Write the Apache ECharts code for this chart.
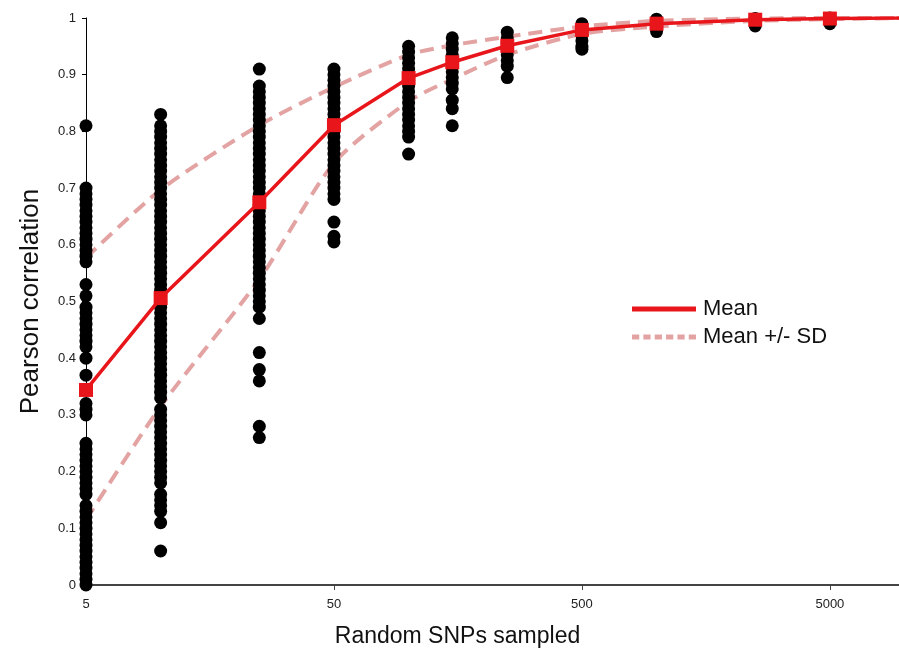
<!DOCTYPE html>
<html>
<head>
<meta charset="utf-8">
<script src="https://cdn.jsdelivr.net/npm/echarts@6/dist/echarts.min.js"></script>
<style>html,body{margin:0;padding:0;background:#fff}#c{width:899px;height:648px}</style>
</head>
<body>
<div id="c"></div>
<script>
// Sample sizes (x positions, log scale)
const sampleSizes = [5, 10, 25, 50, 100, 150, 250, 500, 1000, 2500, 5000];
// Individual correlation values per sample size
const dotsAt5 = [0.81, 0.70, 0.69, 0.68, 0.67, 0.66, 0.65, 0.64, 0.63, 0.62, 0.61, 0.60, 0.59, 0.58, 0.57, 0.53, 0.51, 0.49, 0.48, 0.47, 0.46, 0.45, 0.44, 0.43, 0.42, 0.40, 0.37, 0.32, 0.31, 0.30, 0.25, 0.24, 0.23, 0.22, 0.21, 0.20, 0.19, 0.18, 0.17, 0.16, 0.14, 0.13, 0.12, 0.11, 0.10, 0.09, 0.08, 0.07, 0.06, 0.05, 0.04, 0.03, 0.02, 0.01, 0.00];
const dotsAt10 = [0.83, 0.81, 0.80, 0.79, 0.78, 0.77, 0.76, 0.75, 0.74, 0.73, 0.72, 0.71, 0.70, 0.69, 0.68, 0.67, 0.66, 0.65, 0.64, 0.63, 0.62, 0.61, 0.60, 0.59, 0.58, 0.57, 0.56, 0.55, 0.54, 0.53, 0.52, 0.51, 0.50, 0.49, 0.48, 0.47, 0.46, 0.45, 0.44, 0.43, 0.42, 0.41, 0.40, 0.39, 0.38, 0.37, 0.36, 0.35, 0.34, 0.33, 0.31, 0.30, 0.29, 0.28, 0.27, 0.26, 0.25, 0.24, 0.23, 0.22, 0.21, 0.20, 0.19, 0.18, 0.16, 0.15, 0.14, 0.13, 0.11, 0.06];
const dotsAt25 = [0.91, 0.88, 0.87, 0.86, 0.85, 0.84, 0.83, 0.82, 0.81, 0.80, 0.79, 0.78, 0.77, 0.76, 0.75, 0.74, 0.73, 0.72, 0.71, 0.70, 0.69, 0.68, 0.67, 0.66, 0.65, 0.64, 0.63, 0.62, 0.61, 0.60, 0.59, 0.58, 0.57, 0.56, 0.55, 0.54, 0.53, 0.52, 0.51, 0.50, 0.49, 0.47, 0.41, 0.38, 0.36, 0.28, 0.26];
const dotsAt50 = [0.91, 0.90, 0.89, 0.88, 0.87, 0.86, 0.85, 0.84, 0.83, 0.82, 0.81, 0.80, 0.79, 0.78, 0.77, 0.76, 0.75, 0.74, 0.73, 0.72, 0.71, 0.70, 0.69, 0.68, 0.64, 0.615, 0.605];
const dotsAt100 = [0.95, 0.94, 0.93, 0.92, 0.91, 0.90, 0.89, 0.88, 0.87, 0.86, 0.85, 0.84, 0.83, 0.82, 0.81, 0.80, 0.79, 0.76];
const dotsAt150 = [0.965, 0.955, 0.945, 0.935, 0.925, 0.915, 0.905, 0.895, 0.885, 0.875, 0.855, 0.84, 0.81];
const dotsAt250 = [0.975, 0.965, 0.955, 0.945, 0.935, 0.925, 0.915, 0.895];
const dotsAt500 = [0.99, 0.98, 0.97, 0.96, 0.95, 0.945];
const dotsAt1000 = [0.998, 0.99, 0.983, 0.976];
const dotsAt2500 = [0.999, 0.993, 0.986];
const dotsAt5000 = [1.0, 0.995, 0.99];
// Summary lines
const meanValues = [0.344, 0.506, 0.675, 0.811, 0.894, 0.922, 0.951, 0.979, 0.990, 0.997, 0.999];
const upperSD = [0.577, 0.697, 0.811, 0.878, 0.935, 0.952, 0.967, 0.985, 0.995, 0.999, 1.0];
const lowerSD = [0.115, 0.315, 0.539, 0.744, 0.853, 0.892, 0.935, 0.972, 0.985, 0.995, 0.998];
// Line continuation beyond the visible range
const tailX = 10000, tailMean = 1.0, tailUpper = 1.0, tailLower = 1.0;
// Axis tick labels
const xTickLabels = [5, 50, 500, 5000];

const dotGroups = [dotsAt5, dotsAt10, dotsAt25, dotsAt50, dotsAt100, dotsAt150, dotsAt250, dotsAt500, dotsAt1000, dotsAt2500, dotsAt5000];
const dotData = [];
dotGroups.forEach((g, i) => g.forEach(v => dotData.push([sampleSizes[i], v])));
const pair = (arr, tail) => sampleSizes.map((x, i) => [x, arr[i]]).concat([[tailX, tail]]);

const FONT = 'Liberation Sans';
const RED = '#e8161b';
const PINK = '#e3a3a3';
const chart = echarts.init(document.getElementById('c'), null, {renderer: 'canvas'});
chart.setOption({
  animation: false,
  backgroundColor: '#fff',
  textStyle: {fontFamily: FONT},
  grid: {left: 86, right: 0, top: 18, bottom: 63, containLabel: false, outerBoundsMode: 'none'},
  legend: {
    orient: 'vertical', left: 627, top: 293, itemWidth: 64, itemHeight: 14, itemGap: 6,
    textStyle: {fontSize: 22, color: '#111', fontFamily: FONT, padding: [0, 0, 0, 2]},
    data: [
      {name: 'Mean', icon: 'path://M0,0H64V5H0Z', itemStyle: {color: RED}},
      {name: 'Mean +/- SD', icon: 'path://M0,0H7V5H0Z M11,0H18V5H11Z M22,0H29V5H22Z M33,0H40V5H33Z M44,0H51V5H44Z M55,0H62V5H55Z', itemStyle: {color: PINK}}
    ]
  },
  xAxis: {
    type: 'log', logBase: 10, min: 5, max: 9500,
    name: 'Random SNPs sampled', nameLocation: 'middle', nameGap: 40,
    nameTextStyle: {fontSize: 23, color: '#111', fontFamily: FONT, padding: [0, 70, 0, 0]},
    axisLine: {show: true, lineStyle: {color: '#444', width: 2}},
    axisTick: {show: true, length: 5, lineStyle: {color: '#444'}, customValues: xTickLabels},
    axisLabel: {fontSize: 13, color: '#222', margin: 13, customValues: xTickLabels, formatter: v => String(Math.round(v))},
    splitLine: {show: false}, minorTick: {show: false}
  },
  yAxis: {
    type: 'value', min: 0, max: 1, interval: 0.1,
    name: 'Pearson correlation', nameLocation: 'middle', nameGap: 42, nameRotate: 90,
    nameTextStyle: {fontSize: 26, color: '#111', fontFamily: FONT},
    axisLine: {show: true, lineStyle: {color: '#000', width: 1}},
    axisTick: {show: true, length: 4, lineStyle: {color: '#000'}},
    axisLabel: {fontSize: 13, color: '#222', margin: 10, formatter: v => String(Math.round(v * 10) / 10)},
    splitLine: {show: false}
  },
  series: [
    {
      name: 'Mean +/- SD', type: 'line', data: pair(upperSD, tailUpper), smooth: 0.25, symbol: 'none', z: 1,
      lineStyle: {color: PINK, width: 4, type: [14, 8], cap: 'butt'}, itemStyle: {color: PINK}
    },
    {
      name: 'Mean +/- SD', type: 'line', data: pair(lowerSD, tailLower), smooth: 0.25, symbol: 'none', z: 1,
      lineStyle: {color: PINK, width: 4, type: [14, 8], cap: 'butt'}, itemStyle: {color: PINK}
    },
    {
      name: 'dots', type: 'scatter', data: dotData, symbol: 'circle', symbolSize: 13, clip: false, z: 2,
      itemStyle: {color: '#000', opacity: 1}
    },
    {
      name: 'Mean', type: 'line', data: pair(meanValues, tailMean), symbol: 'none', z: 3,
      lineStyle: {color: RED, width: 3.5}, itemStyle: {color: RED}
    },
    {
      name: 'meanMarks', type: 'scatter', data: sampleSizes.map((x, i) => [x, meanValues[i]]), symbol: 'rect', symbolSize: 14, clip: false, z: 4,
      itemStyle: {color: RED, opacity: 1}
    }
  ]
});
</script>
</body>
</html>
